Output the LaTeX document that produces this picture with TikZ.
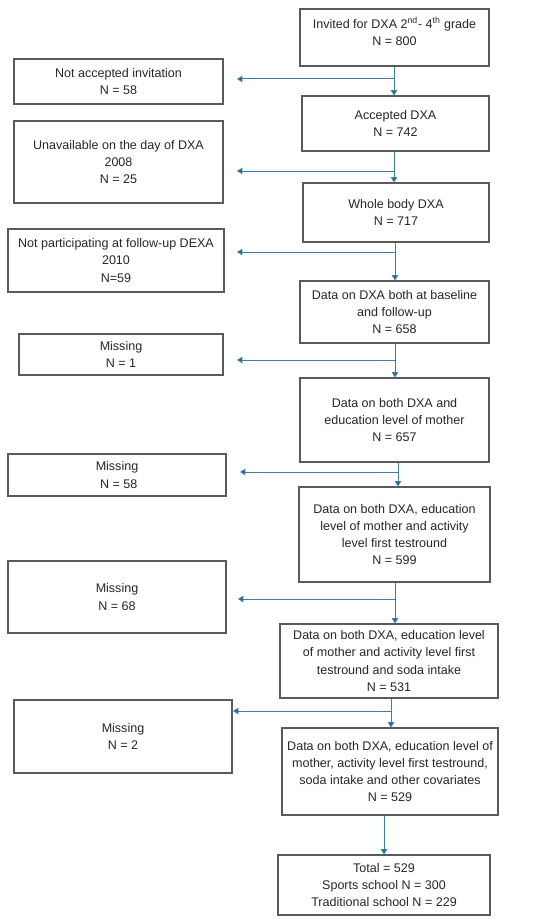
\documentclass[tikz,border=0pt]{standalone}
\usepackage{fontspec}
\setmainfont{Liberation Sans}
\usetikzlibrary{arrows.meta}
\definecolor{flowblue}{HTML}{3A7FA6}
\definecolor{boxgray}{HTML}{5A5A5A}

\begin{document}
\begin{tikzpicture}[x=0.75pt, y=-0.75pt,
    box/.style 2 args={draw=boxgray, line width=0.8pt, align=center, inner sep=1pt,
      minimum width=#1*0.75pt, minimum height=#2*0.75pt,
      font=\fontsize{9.4}{12.8}\selectfont, text=black!85},
    flow/.style={draw=flowblue, line width=0.75pt,
      -{Triangle[width=4.8pt, length=4pt, fill=flowblue!75!black]}}]
  \useasboundingbox (0,0) rectangle (550,924);

  % main column
  \node[box={189}{57}] (inv) at (394.5,37.5) {Invited for DXA 2\textsuperscript{nd}- 4\textsuperscript{th} grade\\N = 800\\[-3.8pt]\mbox{}};
  \node[box={187}{55}] (acc) at (395.5,123.5) {Accepted DXA\\N = 742};
  \node[box={186}{59}] (whole) at (396,212.5) {Whole body DXA\\N = 717};
  \node[box={189}{62}] (base) at (394.5,312) {Data on DXA both at baseline\\and follow-up\\N = 658};
  \node[box={189}{84}] (edu) at (394.5,420) {Data on both DXA and\\education level of mother\\N = 657};
  \node[box={191}{95}] (act) at (394.5,534.5) {Data on both DXA, education\\level of mother and activity\\level first testround\\N = 599};
  \node[box={218}{74}] (soda) at (389,661) {Data on both DXA, education level\\of mother and activity level first\\testround and soda intake\\N = 531};
  \node[box={216}{87}] (cov) at (390,771.5) {Data on both DXA, education level of\\mother, activity level first testround,\\soda intake and other covariates\\N = 529};
  \node[box={212}{60}] (total) at (384,885) {Total = 529\\Sports school N = 300\\Traditional school N = 229};

  % excluded column
  \node[box={209}{45}] (notacc) at (118.5,81.5) {Not accepted invitation\\N = 58};
  \node[box={209}{82}] (unav) at (118.5,162) {Unavailable on the day of DXA\\2008\\N = 25};
  \node[box={216}{63}] (notpart) at (116,260.5) {Not participating at follow-up DEXA\\2010\\N=59};
  \node[box={204}{41}] (miss1) at (121,354.5) {Missing\\N = 1};
  \node[box={218}{42}] (miss58) at (117,475) {Missing\\\ N = 58};
  \node[box={218}{72}] (miss68) at (117,597) {Missing\\N = 68};
  \node[box={218}{73}] (miss2) at (123,736.5) {Missing\\N = 2};

  % split points and arrow tips
  \coordinate (s1) at (394,79);   \coordinate (t1) at (237,79);
  \coordinate (s2) at (394,171);  \coordinate (t2) at (237,171);
  \coordinate (s3) at (395,252);  \coordinate (t3) at (237,252);
  \coordinate (s4) at (395,360);  \coordinate (t4) at (237,360);
  \coordinate (s5) at (398,472);  \coordinate (t5) at (240,472);
  \coordinate (s6) at (395,599);  \coordinate (t6) at (238,599);
  \coordinate (s7) at (391,711);  \coordinate (t7) at (233,711);

  \draw[flow] (inv.south -| s1) -- (s1 |- acc.north);
  \draw[flow] (acc.south -| s2) -- (s2 |- whole.north);
  \draw[flow] (whole.south -| s3) -- (s3 |- base.north);
  \draw[flow] (base.south -| s4) -- (s4 |- edu.north);
  \draw[flow] (edu.south -| s5) -- (s5 |- act.north);
  \draw[flow] (act.south -| s6) -- (s6 |- soda.north);
  \draw[flow] (soda.south -| s7) -- (s7 |- cov.north);
  \draw[flow] (cov.south -| total) -- (total.north);
  \foreach \i in {1,...,7}
    \draw[flow] (s\i) -- (t\i);
\end{tikzpicture}
\end{document}
